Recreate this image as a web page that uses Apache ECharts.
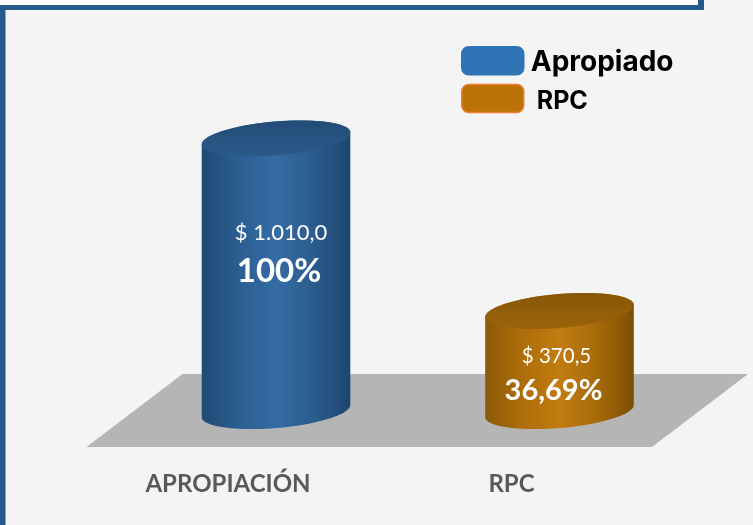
<!DOCTYPE html>
<html lang="es">

<head>
    <meta charset="UTF-8">
    <title>Apropiado vs RPC</title>
    <script src="https://cdn.jsdelivr.net/npm/echarts@6/dist/echarts.min.js"></script>
    <style>
        html, body { margin: 0; padding: 0; background: #f4f4f4; }
        #chart { width: 753px; height: 525px; }
    </style>
</head>

<body>
    <div id="chart"></div>
    <script>
        var categories = ['APROPIACIÓN', 'RPC']
        var seriesNames = ['Apropiado', 'RPC']
        var values = [1010, 370.5]
        var amountLabels = ['$ 1.010,0', '$ 370,5']
        var percentLabels = ['100%', '36,69%']

        var myCharts = echarts.init(document.getElementById('chart'))

        // colores de cada cilindro
        var looks = [{
            swatch: '#2f75b5', edge: '#2f75b5',
            body: ['#1f4a74', '#2c5e91', '#356ca5', '#2b5c8d', '#1d466e'],
            top: ['#234c76', '#2a5a8a'],
            amountAt: [5, 94], percentAt: [3, 133], amountSize: 22, percentSize: 33
        }, {
            swatch: '#bb7206', edge: '#ed7d31',
            body: ['#8a5a08', '#ae6d0a', '#c27c10', '#a86a0a', '#7c4f05'],
            top: ['#875808', '#9a6309'],
            amountAt: [-3, 45], percentAt: [-6, 80], amountSize: 20.5, percentSize: 29
        }]

        // elipse inclinada: medio giro desde t0
        function ellipseArc(cx, cy, rx, ry, tilt, t0, t1) {
            var pts = []
            for (var i = 0; i <= 48; i++) {
                var t = t0 + (t1 - t0) * i / 48
                pts.push([
                    cx + rx * Math.cos(t) * Math.cos(tilt) - ry * Math.sin(t) * Math.sin(tilt),
                    cy + rx * Math.cos(t) * Math.sin(tilt) + ry * Math.sin(t) * Math.cos(tilt)
                ])
            }
            return pts
        }

        function hGrad(colors) {
            return new echarts.graphic.LinearGradient(0, 0, 1, 0, colors.map(function (c, i) {
                return { offset: i / (colors.length - 1), color: c }
            }))
        }

        function renderCylinder(params, api) {
            var idx = api.value(0)
            var look = looks[idx]
            var top = api.coord([idx, api.value(1)])
            var base = api.coord([idx, 0])
            var rx = api.size([1, 0])[0] * 0.263
            var ry = rx * 0.228
            var tilt = -4.9 * Math.PI / 180
            var phi = Math.atan2(ry * Math.sin(tilt), rx * Math.cos(tilt))
            var lower = ellipseArc(base[0], base[1], rx, ry, tilt, -phi, Math.PI - phi)
            var upper = ellipseArc(top[0], top[1], rx, ry, tilt, Math.PI - phi, 2 * Math.PI - phi)
            var cap = ellipseArc(top[0], top[1], rx, ry, tilt, 0, 2 * Math.PI)
            return {
                type: 'group',
                children: [{
                    type: 'polygon',
                    shape: { points: lower.concat(upper) },
                    style: { fill: hGrad(look.body) }
                }, {
                    type: 'polygon',
                    shape: { points: cap },
                    style: {
                        fill: new echarts.graphic.LinearGradient(0, 0, 0, 1, [
                            { offset: 0, color: look.top[0] },
                            { offset: 1, color: look.top[1] }
                        ])
                    }
                }, {
                    type: 'text',
                    x: top[0] + look.amountAt[0],
                    y: top[1] + look.amountAt[1],
                    style: {
                        text: amountLabels[idx], fill: '#fff', align: 'center', verticalAlign: 'middle',
                        fontFamily: 'Lato', fontSize: look.amountSize
                    }
                }, {
                    type: 'text',
                    x: top[0] + look.percentAt[0],
                    y: top[1] + look.percentAt[1],
                    style: {
                        text: percentLabels[idx], fill: '#fff', align: 'center', verticalAlign: 'middle',
                        fontFamily: 'Lato', fontWeight: 'bold', fontSize: look.percentSize
                    }
                }]
            }
        }

        var option = {
            animation: false,
            backgroundColor: '#f4f4f4',
            grid: { left: 134.25, width: 567, top: 138.5, height: 272.5 },
            xAxis: {
                type: 'category',
                data: categories,
                axisLine: { show: false },
                axisTick: { show: false },
                axisLabel: {
                    margin: 61,
                    padding: [0, 96, 0, 0], // texto corrido a la izquierda del cilindro
                    color: '#595959',
                    fontFamily: 'Lato',
                    fontWeight: 'bold',
                    fontSize: 24
                }
            },
            yAxis: { type: 'value', min: 0, max: 1010, show: false },
            legend: {
                orient: 'vertical',
                left: 461,
                top: 46,
                padding: 0,
                itemWidth: 62,
                itemHeight: 28,
                itemGap: 7,
                icon: 'roundRect',
                data: seriesNames.map(function (name, i) {
                    return {
                        name: name,
                        itemStyle: { color: looks[i].swatch, borderColor: looks[i].edge, borderWidth: 1.5 }
                    }
                }),
                formatter: function (name) {
                    return name === 'RPC' ? '{b|' + name + '}' : '{a|' + name + '}'
                },
                textStyle: {
                    rich: {
                        a: { fontFamily: 'Inter', fontWeight: 'bold', fontSize: 28, color: '#000', padding: [4, 0, 0, 2] },
                        b: { fontFamily: 'Inter', fontWeight: 'bold', fontSize: 25, color: '#000', padding: [5, 0, 0, 8] }
                    }
                }
            },
            graphic: [
                { type: 'rect', z: 0, shape: { x: 0, y: 0, width: 698, height: 5 }, style: { fill: '#fff' } },
                { type: 'rect', z: 0, shape: { x: 0, y: 5, width: 704, height: 5 }, style: { fill: '#255a8c' } },
                { type: 'rect', z: 0, shape: { x: 698, y: 0, width: 6, height: 10 }, style: { fill: '#255a8c' } },
                { type: 'rect', z: 0, shape: { x: 0, y: 5, width: 5.5, height: 520 }, style: { fill: '#255a8c' } },
                {
                    type: 'polygon', z: 1,
                    shape: { points: [[182.5, 374], [748, 374], [652, 447], [86.5, 447]] },
                    style: { fill: '#b5b5b5' }
                }
            ],
            series: seriesNames.map(function (name, i) {
                return {
                    name: name,
                    type: 'custom',
                    renderItem: renderCylinder,
                    itemStyle: { color: looks[i].swatch },
                    encode: { x: 0, y: 1 },
                    data: [[i, values[i]]]
                }
            })
        }
        myCharts.setOption(option)
    </script>
</body>

</html>
